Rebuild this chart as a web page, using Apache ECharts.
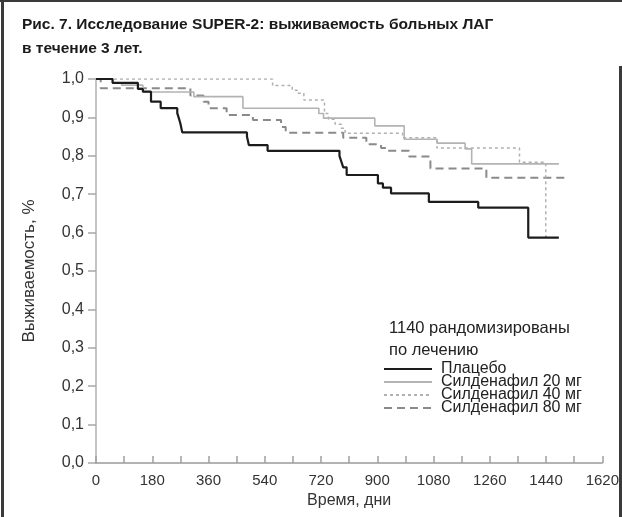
<!DOCTYPE html>
<html>
<head>
<meta charset="utf-8">
<script src="https://cdn.jsdelivr.net/npm/echarts@6/dist/echarts.min.js"></script>
<style>
html,body{margin:0;padding:0;background:#fff;}
#c{width:622px;height:517px;}
</style>
</head>
<body>
<div id="c"></div>
<script>
// ---- data ----
var titleText = 'Рис. 7. Исследование SUPER-2: выживаемость больных ЛАГ\nв течение 3 лет.';
var noteText = '1140 рандомизированы\nпо лечению';
var seriesNames = ['Плацебо', 'Силденафил 20 мг', 'Силденафил 40 мг', 'Силденафил 80 мг'];

var placeboDays = [0, 53, 134, 150, 176, 207, 260, 265, 270, 276, 483, 489, 549, 779, 785, 791, 802, 902, 918, 944, 1065, 1223, 1383, 1481];
var placeboSurv = [1.0, 0.99, 0.974, 0.967, 0.941, 0.924, 0.911, 0.898, 0.884, 0.861, 0.85, 0.828, 0.813, 0.80, 0.785, 0.77, 0.75, 0.728, 0.717, 0.702, 0.68, 0.665, 0.587, 0.587];

var sil20Days = [0, 53, 82, 150, 313, 470, 713, 728, 892, 986, 1091, 1181, 1202, 1481];
var sil20Surv = [1.0, 0.99, 0.984, 0.966, 0.954, 0.924, 0.91, 0.898, 0.878, 0.843, 0.833, 0.818, 0.779, 0.779];

var sil40Days = [0, 565, 628, 644, 665, 731, 744, 765, 785, 797, 981, 1091, 1355, 1439, 1447];
var sil40Surv = [1.0, 0.983, 0.971, 0.963, 0.945, 0.91, 0.895, 0.882, 0.872, 0.859, 0.847, 0.82, 0.783, 0.589, 0.589];

var sil80Days = [0, 15, 302, 344, 360, 418, 502, 592, 607, 791, 865, 912, 928, 1002, 1070, 1249, 1513];
var sil80Surv = [1.0, 0.976, 0.957, 0.941, 0.924, 0.906, 0.893, 0.875, 0.86, 0.847, 0.83, 0.82, 0.813, 0.798, 0.767, 0.743, 0.743];

var xMin = 0, xMax = 1620, xTickStep = 90, xLabelStep = 180;
var yMin = 0, yMax = 1, yStep = 0.1;

function pairs(d, s) { return d.map(function (v, i) { return [v, s[i]]; }); }

var chart = echarts.init(document.getElementById('c'), null, {renderer: 'canvas'});
var fontMain = 'Liberation Sans, Arial, Helvetica, sans-serif';

var styles = [
  {color: '#1c1c1c', width: 2.2, type: 'solid'},
  {color: '#b3b3b3', width: 1.6, type: 'solid'},
  {color: '#b0b0b0', width: 1.5, type: [3, 3]},
  {color: '#8a8a8a', width: 2, type: [8, 5]}
];
var dataSets = [pairs(placeboDays, placeboSurv), pairs(sil20Days, sil20Surv), pairs(sil40Days, sil40Surv), pairs(sil80Days, sil80Surv)];

var series = seriesNames.map(function (n, i) {
  return {
    name: n, type: 'line', step: 'end', symbol: 'none', showSymbol: false,
    data: dataSets[i], animation: false, z: 10 - i,
    lineStyle: {color: styles[i].color, width: styles[i].width, type: styles[i].type},
    itemStyle: {color: styles[i].color}
  };
});

var legends = seriesNames.map(function (n, i) {
  return {
    data: [n], orient: 'vertical', left: 383, top: 361 + i * 13, padding: 0,
    itemGap: 0, itemWidth: 48, itemHeight: 13,
    itemStyle: {opacity: 0},
    textStyle: {fontFamily: fontMain, fontSize: 16, color: '#222', lineHeight: 13, padding: [0, 0, 0, 4]},
    selectedMode: false
  };
});

chart.setOption({
  animation: false,
  title: [
    {text: titleText, left: 17, top: 8,
     textStyle: {fontFamily: fontMain, fontSize: 15.5, fontWeight: 'bold', color: '#1a1a1a', lineHeight: 24}},
    {text: noteText, left: 384, top: 312,
     textStyle: {fontFamily: fontMain, fontSize: 16.5, fontWeight: 'normal', color: '#222', lineHeight: 22}}
  ],
  legend: legends,
  grid: {left: 96, right: 13, top: 79, bottom: 54, containLabel: false},
  xAxis: {
    type: 'value', min: xMin, max: xMax, interval: xTickStep,
    name: 'Время, дни', nameLocation: 'middle', nameGap: 29,
    nameTextStyle: {fontFamily: fontMain, fontSize: 16, color: '#333'},
    axisLine: {onZero: false, lineStyle: {color: '#9a9a9a', width: 1.5}},
    axisTick: {inside: true, length: 7, lineStyle: {color: '#a0a0a0', width: 1.5}},
    axisLabel: {margin: 10, fontFamily: fontMain, fontSize: 15, color: '#333',
      formatter: function (v) { return v % xLabelStep === 0 ? String(v) : ''; }},
    splitLine: {show: false}
  },
  yAxis: {
    type: 'value', min: yMin, max: yMax, interval: yStep,
    name: 'Выживаемость, %', nameLocation: 'middle', nameGap: 58, nameRotate: 90,
    nameTextStyle: {fontFamily: fontMain, fontSize: 17, color: '#333'},
    axisLine: {show: true, lineStyle: {color: '#b0b0b0', width: 1.5}},
    axisTick: {show: true, length: 8, lineStyle: {color: '#a8a8a8', width: 1.5}},
    axisLabel: {margin: 12, fontFamily: fontMain, fontSize: 16, color: '#333',
      formatter: function (v) { return v.toFixed(1).replace('.', ','); }},
    splitLine: {show: false}
  },
  graphic: [
    {type: 'rect', shape: {x: 0, y: 0, width: 622, height: 2}, style: {fill: '#3a3a3a'}, silent: true},
    {type: 'rect', shape: {x: 1, y: 0, width: 3, height: 517}, style: {fill: '#3a3a3a'}, silent: true},
    {type: 'rect', shape: {x: 619, y: 66, width: 3, height: 451}, style: {fill: '#3a3a3a'}, silent: true}
  ],
  series: series
});
</script>
</body>
</html>
